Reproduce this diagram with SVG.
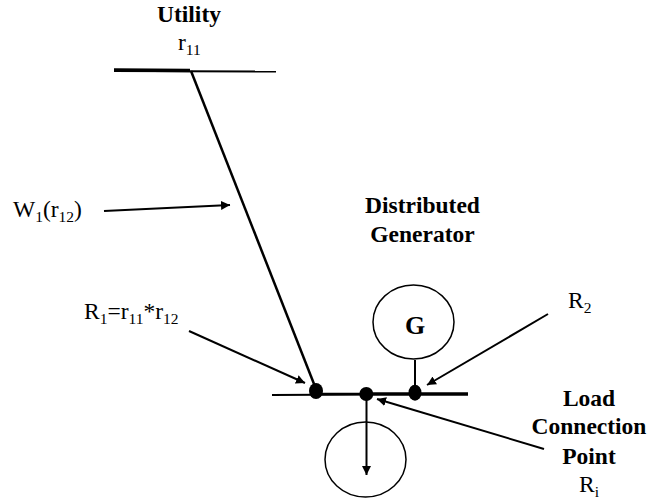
<svg xmlns="http://www.w3.org/2000/svg" width="649" height="502" viewBox="0 0 649 502">
<style>
text{font-family:"Liberation Serif","Times New Roman",serif;font-size:23.500px;fill:#000}
.b{font-weight:bold}
.s{font-size:15.500px}
.l{stroke:#000;fill:none}
.c{stroke:#000;stroke-width:1.500;fill:none}
.d{fill:#000;stroke:none}
</style>
<defs>
<marker id="a" markerUnits="userSpaceOnUse" markerWidth="10" markerHeight="10" refX="9" refY="5" orient="auto"><path d="M0 0.500L9 5L0 9.500z" fill="#000"/></marker>
</defs>
<rect width="649" height="502" fill="#fff"/>
<g id="connectors">
<path class="l" d="M114 71L276 71.500" stroke-width="2"/>
<path class="l" d="M114 70L190 70.500" stroke-width="3.500"/>
<path class="l" d="M191 71L316 389" stroke-width="2.500"/>
<path class="l" d="M272 395L365 394.500" stroke-width="2"/>
<path class="l" d="M316 394L365 394" stroke-width="2.500"/>
<path class="l" d="M365 394L468 394" stroke-width="3.500"/>
<path class="l" d="M415 360V392" stroke-width="2"/>
<path class="l" d="M366.500 394V475" stroke-width="2" marker-end="url(#a)"/>
<path class="l" d="M104 211L230 205" stroke-width="2" marker-end="url(#a)"/>
<path class="l" d="M189 331L305 383" stroke-width="2" marker-end="url(#a)"/>
<path class="l" d="M548 314L427 385" stroke-width="2" marker-end="url(#a)"/>
<path class="l" d="M544 449L377 399" stroke-width="2" marker-end="url(#a)"/>
</g>
<g id="node-utility"><text class="b" x="189" y="22" text-anchor="middle">Utility</text><text x="178" y="50">r<tspan class="s" dy="5">11</tspan></text></g>
<g id="node-w1"><text x="13" y="217">W<tspan class="s" dy="5">1</tspan><tspan dy="-5">(r</tspan><tspan class="s" dy="5">12</tspan><tspan dy="-5">)</tspan></text></g>
<g id="node-r1"><text x="84" y="319">R<tspan class="s" dy="5">1</tspan><tspan dy="-5">=r</tspan><tspan class="s" dy="5">11</tspan><tspan dy="-5">*r</tspan><tspan class="s" dy="5">12</tspan></text></g>
<g id="node-dg"><text class="b" x="422.500" y="213" text-anchor="middle">Distributed</text><text class="b" x="422.500" y="242" text-anchor="middle">Generator</text></g>
<g id="node-g"><ellipse class="c" cx="413.500" cy="322" rx="40.500" ry="37"/><text class="b" x="415" y="334" text-anchor="middle" style="font-size:26px">G</text></g>
<g id="node-r2"><text x="568" y="308">R<tspan class="s" dy="5">2</tspan></text></g>
<g id="node-load"><ellipse class="c" cx="365.500" cy="459.500" rx="40.500" ry="37.500"/></g>
<g id="node-lcp"><text class="b" x="589" y="406" text-anchor="middle">Load</text><text class="b" x="589" y="434" text-anchor="middle">Connection</text><text class="b" x="589" y="464" text-anchor="middle">Point</text><text x="579" y="492">R<tspan class="s" dy="5">i</tspan></text></g>
<g id="junctions"><ellipse class="d" cx="316" cy="391" rx="7" ry="8"/><ellipse class="d" cx="366.300" cy="394" rx="7" ry="7"/><ellipse class="d" cx="415" cy="392.700" rx="6.500" ry="8"/></g>
</svg>
